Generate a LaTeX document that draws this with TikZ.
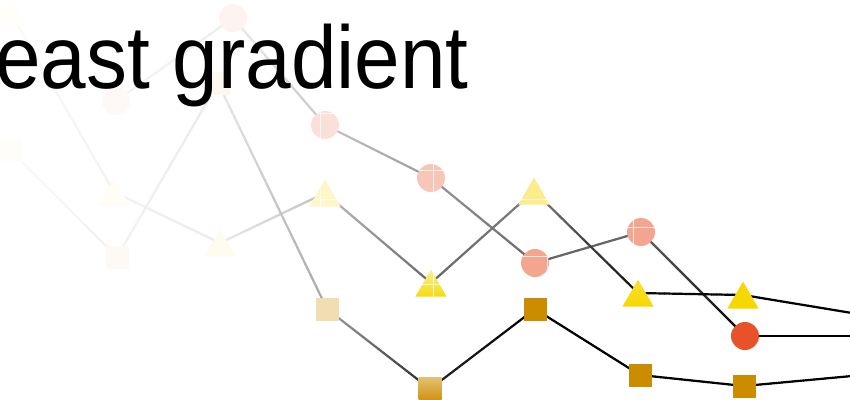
\documentclass[tikz,border=0pt]{standalone}
\usepackage{fontspec}
\setmainfont{Liberation Sans}
\usetikzlibrary{calc,shapes.geometric}

\definecolor{dotred}{RGB}{232,82,42}
\definecolor{triyellow}{RGB}{246,216,0}
\definecolor{boxgold}{RGB}{204,140,0}

% segment from #1 to #2 whose ink fades from strength #3 to #4 (0..1)
\newcommand\linkfade[4]{%
  \foreach \i in {0,...,19}{%
    \pgfmathsetmacro\ta{\i/20}%
    \pgfmathsetmacro\tb{(\i+1)/20}%
    \pgfmathsetmacro\al{100*(#3+(#4-#3)*(\i+0.5)/20)}%
    \draw[link, draw=black!\al!white] ($(#1)!\ta!(#2)$) -- ($(#1)!\tb!(#2)$);
  }}
% marker of style #1, colour #2, at point #3, strength #4
\newcommand\marker[4]{\node[#1, fill=#2!#4!white] (#3m) at (#3) {};}
% marker shaded from strength #4 (left/top) to #5 (right/bottom); #6 = lr or tb
\newcommand\markershade[6]{%
  \ifx lr#6
    \node[#1, left color=#2!#4!white, right color=#2!#5!white] (#3m) at (#3) {};
  \else
    \node[#1, top color=#2!#4!white, bottom color=#2!#5!white] (#3m) at (#3) {};
  \fi}
% thin white screen over a half-faded marker
\newcommand\screen[1]{%
  \begin{scope}
    \clip #1;
    \draw[screenline, shift={(7,0)}] (-20,-10) grid (860,410);
  \end{scope}}

\begin{document}
\begin{tikzpicture}[x=1pt,y=-1pt,
  link/.style={line width=2.2pt, line cap=round},
  screenline/.style={white, line width=0.8pt, opacity=0.75},
  dotmark/.style={circle, inner sep=0pt, minimum size=28pt},
  boxmark/.style={rectangle, inner sep=0pt, minimum size=23pt},
  trimark/.style={regular polygon, regular polygon sides=3, inner sep=0pt,
                  minimum size=36pt, yshift=-4.5pt}]
\useasboundingbox (0,0) rectangle (850,399);
\fill[white] (0,0) rectangle (850,399);

% red circle series
\coordinate (c1) at (116,101);
\coordinate (c2) at (233,18);
\coordinate (c3) at (325,125);
\coordinate (c4) at (431,178);
\coordinate (c5) at (535,263);
\coordinate (c6) at (641,232);
\coordinate (c7) at (745,336);
\coordinate (c8) at (852,336);
% yellow triangle series
\coordinate (t0) at (10,12);
\coordinate (t1) at (114,192);
\coordinate (t2) at (220,243);
\coordinate (t3) at (325,193);
\coordinate (t4) at (431,283);
\coordinate (t5) at (534,191);
\coordinate (t6) at (638,293);
\coordinate (t7) at (743,295);
\coordinate (t8) at (852,313);
% gold square series
\coordinate (s0) at (10,150);
\coordinate (s1) at (117,257);
\coordinate (s2) at (218,83);
\coordinate (s3) at (327,309);
\coordinate (s4) at (430,389);
\coordinate (s5) at (535,309);
\coordinate (s6) at (640,375);
\coordinate (s7) at (744,386);
\coordinate (s8) at (852,376);

% connecting lines
\linkfade{c1}{c2}{0.04}{0.07}
\linkfade{c2}{c3}{0.07}{0.22}
\linkfade{c3}{c4}{0.22}{0.4}
\linkfade{c4}{c5}{0.4}{0.6}
\linkfade{c5}{c6}{0.6}{0.6}
\linkfade{c6}{c7}{0.6}{1}
\linkfade{c7}{c8}{1}{1}

\linkfade{t0}{t1}{0.02}{0.05}
\linkfade{t1}{t2}{0.05}{0.08}
\linkfade{t2}{t3}{0.08}{0.25}
\linkfade{t3}{t4}{0.25}{0.6}
\linkfade{t4}{t5}{0.6}{0.5}
\linkfade{t5}{t6}{0.5}{0.95}
\linkfade{t6}{t7}{0.95}{1}
\linkfade{t7}{t8}{1}{1}

\linkfade{s0}{s1}{0.02}{0.05}
\linkfade{s1}{s2}{0.05}{0.08}
\linkfade{s2}{s3}{0.08}{0.35}
\linkfade{s3}{s4}{0.35}{0.85}
\linkfade{s4}{s5}{0.85}{1}
\linkfade{s5}{s6}{1}{1}
\linkfade{s6}{s7}{1}{1}
\linkfade{s7}{s8}{1}{1}

% markers
\marker{dotmark}{dotred}{c1}{4}
\marker{dotmark}{dotred}{c2}{7}
\marker{dotmark}{dotred}{c3}{18}
\marker{dotmark}{dotred}{c4}{33}
\marker{dotmark}{dotred}{c5}{52}
\marker{dotmark}{dotred}{c6}{52}
\marker{dotmark}{dotred}{c7}{100}

\marker{trimark}{triyellow}{t0}{2}
\marker{trimark}{triyellow}{t1}{4}
\marker{trimark}{triyellow}{t2}{7}
\marker{trimark}{triyellow}{t3}{22}
\markershade{trimark}{triyellow}{t4}{40}{95}{tb}
\marker{trimark}{triyellow}{t5}{45}
\markershade{trimark}{triyellow}{t6}{80}{100}{tb}
\marker{trimark}{triyellow}{t7}{100}

\marker{boxmark}{boxgold}{s0}{2}
\marker{boxmark}{boxgold}{s1}{4}
\marker{boxmark}{boxgold}{s2}{6}
\marker{boxmark}{boxgold}{s3}{30}
\markershade{boxmark}{boxgold}{s4}{55}{95}{lr}
\marker{boxmark}{boxgold}{s5}{100}
\marker{boxmark}{boxgold}{s6}{100}
\marker{boxmark}{boxgold}{s7}{100}

% white screen on the half-faded markers
\screen{(c3) circle (14)}
\screen{(c4) circle (14)}
\screen{(c5) circle (14)}
\screen{(c6) circle (14)}
\screen{(t3m.corner 1) -- (t3m.corner 2) -- (t3m.corner 3) -- cycle}
\screen{(t4m.corner 1) -- (t4m.corner 2) -- (t4m.corner 3) -- cycle}
\screen{(t5m.corner 1) -- (t5m.corner 2) -- (t5m.corner 3) -- cycle}

% title
\node[anchor=base east, inner sep=0pt, font=\fontsize{89}{100}\selectfont,
      xscale=0.92] (title) at (469,88) {east gradient};
\end{tikzpicture}
\end{document}
